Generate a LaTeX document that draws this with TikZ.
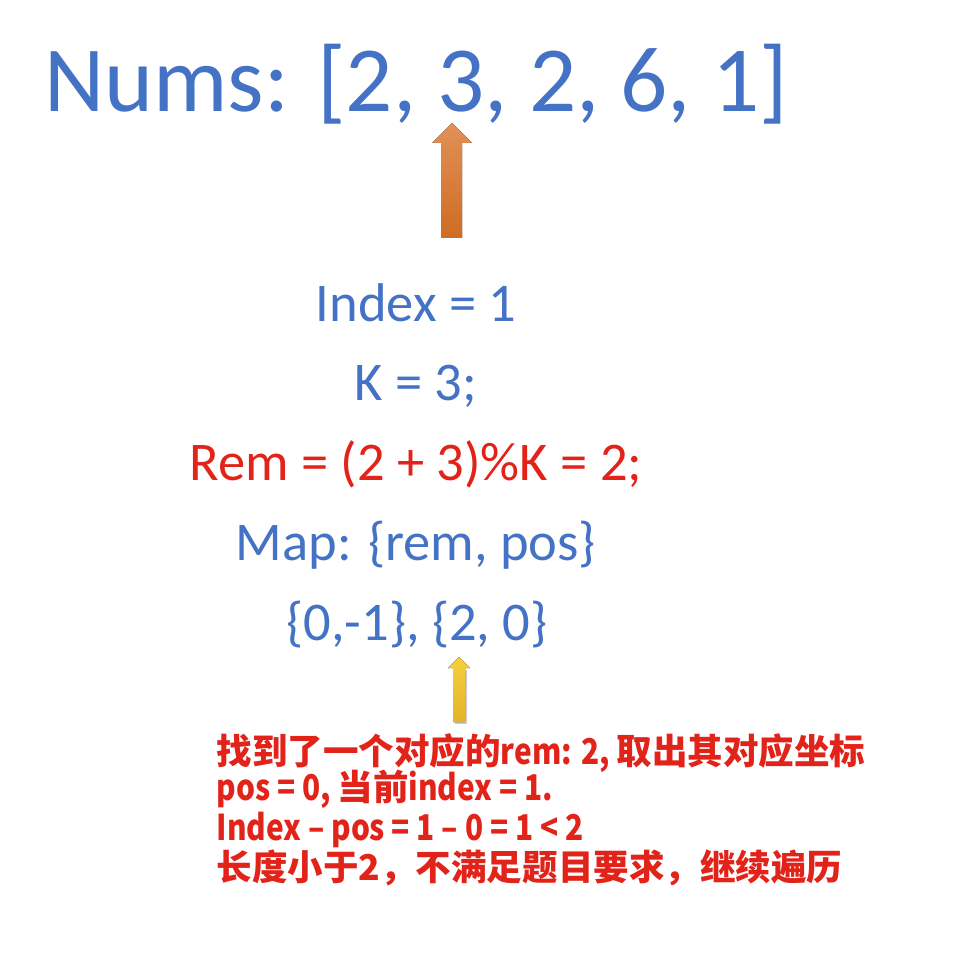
\documentclass[tikz,border=0pt]{standalone}
\usepackage{fontspec}
\setmainfont{Carlito}
\newfontfamily\cjk{Noto Sans CJK SC}
\newfontfamily\latn[FakeStretch=0.84]{Noto Sans CJK SC}
\definecolor{numblue}{HTML}{4472C4}
\definecolor{remred}{HTML}{E2231A}
\definecolor{arrowtop}{RGB}{226,145,88}
\definecolor{arrowbot}{RGB}{206,108,34}
\definecolor{pintop}{RGB}{246,208,64}
\definecolor{pinbot}{RGB}{228,180,38}
\begin{document}
\begin{tikzpicture}[x=0.01cm, y=-0.01cm,
    bluetext/.style={text=numblue, inner sep=0pt, anchor=base, font=\fontsize{15.5}{18}\selectfont},
    note/.style={text=remred, inner sep=0pt, anchor=base west, font=\cjk\fontsize{10.1}{12}\selectfont\bfseries}]
    \useasboundingbox (0,0) rectangle (953,961);

    \node[bluetext, font=\fontsize{26.5}{30}\selectfont] (nums) at (416,112) {Nums: [2, 3, 2, 6, 1]};
    \node[bluetext] (index) at (416,321) {Index = 1};
    \node[bluetext] (k) at (416,400) {K = 3;};
    \node[bluetext, text=remred] (rem) at (416,480) {Rem = (2 + 3)\%K = 2;};
    \node[bluetext] (map) at (416,560) {Map: \{rem, pos\}};
    \node[bluetext] (pairs) at (417,640) {\{0,-1\}, \{2, 0\}};

    % orange arrow under the 3
    \fill[top color=arrowtop, bottom color=arrowbot]
        (441,238) -- (441,143) -- (432,143) -- (452,123) -- (472,143) -- (462,143) -- (462,238) -- cycle;
    % yellow arrow under {2, 0}
    \fill[gray!40] (455,724) -- (455,670) -- (467,670) -- (467,724) -- cycle;
    \fill[top color=pintop, bottom color=pinbot]
        (453,722) -- (453,668) -- (448,668) -- (459,657) -- (470,668) -- (465,668) -- (465,722) -- cycle;

    \node[note] (line1) at (216,764) {找到了一个对应的{\latn\bfseries rem: 2, }取出其对应坐标};
    \node[note] (line2) at (216,800) {{\latn\bfseries pos = 0, }当前{\latn\bfseries index = 1.}};
    \node[note] (line3) at (216,840) {\latn\bfseries Index – pos = 1 – 0 = 1 < 2};
    \node[note] (line4) at (216,880) {长度小于2，不满足题目要求，继续遍历};
\end{tikzpicture}
\end{document}
